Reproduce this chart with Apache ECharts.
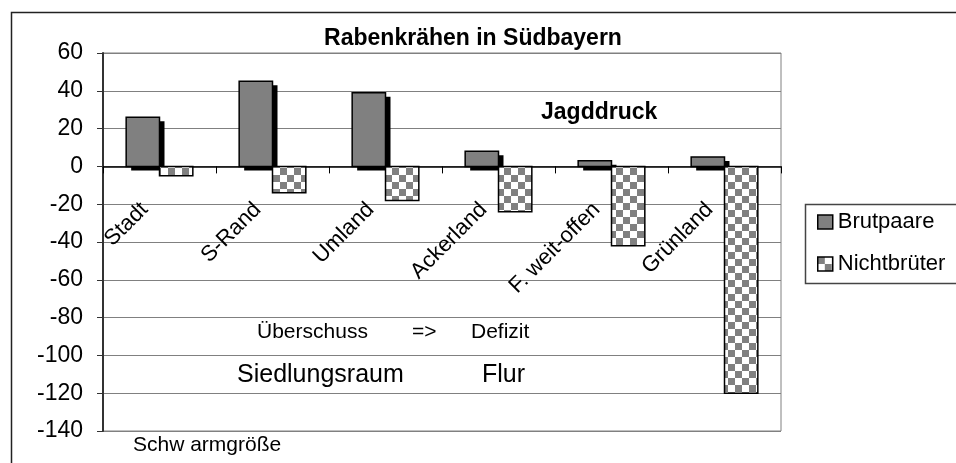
<!DOCTYPE html>
<html>
<head>
<meta charset="utf-8">
<script src="https://cdn.jsdelivr.net/npm/echarts@6/dist/echarts.min.js"></script>
<style>
html, body { margin: 0; padding: 0; background: #fff; }
#chart { width: 956px; height: 463px; }
</style>
</head>
<body>
<div id="chart"></div>
<script>
var categories = ['Stadt', 'S-Rand', 'Umland', 'Ackerland', 'F. weit-offen', 'Grünland'];
var brutpaare = [26, 45, 39, 8, 3, 5];
var nichtbrueter = [-5, -14, -18, -24, -42, -120];
var yTicks = { min: -140, max: 60, step: 20 };

// checkerboard fill like the old Excel pattern
function checker() {
    var c = document.createElement('canvas');
    c.width = 14; c.height = 14;
    var g = c.getContext('2d');
    g.fillStyle = '#ffffff';
    g.fillRect(0, 0, 14, 14);
    g.fillStyle = '#808080';
    g.fillRect(0, 0, 7, 7);
    g.fillRect(7, 7, 7, 7);
    return c;
}
var checkerFill = { image: checker(), repeat: 'repeat' };

// bar drawn next to the category centre, side -1 = left half, 1 = right half
function barRenderer(side, fill, shadow) {
    return function (params, api) {
        var c = api.value(0), v = api.value(1);
        var base = api.coord([c, 0]);
        var end = api.coord([c, v]);
        var w = api.size([1, 0])[0] * 0.295;
        var x = side < 0 ? base[0] - w : base[0];
        var y = Math.min(base[1], end[1]);
        var h = Math.abs(base[1] - end[1]);
        var kids = [];
        if (shadow) {
            kids.push({ type: 'rect', shape: { x: x + 5, y: y + 4, width: w, height: h },
                        style: { fill: '#000' } });
        }
        kids.push({ type: 'rect', shape: { x: x, y: y, width: w, height: h },
                    style: { fill: fill, stroke: '#000', lineWidth: 1.5 } });
        return { type: 'group', children: kids };
    };
}

function pairs(values) {
    return values.map(function (v, i) { return [i, v]; });
}

var font = '"Liberation Sans", Arial, sans-serif';
var myChart = echarts.init(document.getElementById('chart'));
var option = {
    animation: false,
    textStyle: { fontFamily: font, color: '#000' },
    title: {
        text: 'Rabenkrähen in Südbayern',
        left: 468,
        textAlign: 'center',
        top: 22,
        textStyle: { fontSize: 23, fontWeight: 'bold', color: '#000', fontFamily: font }
    },
    legend: {
        orient: 'vertical',
        left: 812,
        top: 206,
        itemWidth: 15,
        itemHeight: 14,
        itemGap: 20,
        textStyle: { fontSize: 22, color: '#000', fontFamily: font },
        data: [
            { name: 'Brutpaare', icon: 'rect',
              itemStyle: { color: '#808080', borderColor: '#000', borderWidth: 1.5 } },
            { name: 'Nichtbrüter', icon: 'rect',
              itemStyle: { color: checkerFill, borderColor: '#000', borderWidth: 1.5 } }
        ]
    },
    grid: {
        left: 103,
        right: 175,
        top: 53,
        bottom: 32,
        outerBoundsMode: 'none',
        containLabel: false,
        show: true,
        borderColor: '#808080',
        borderWidth: 1
    },
    xAxis: {
        type: 'category',
        data: categories,
        position: 'bottom',
        offset: 0,
        axisLine: { onZero: false, lineStyle: { color: '#000', width: 1.5 } },
        axisTick: { show: true, length: 7, lineStyle: { color: '#000' } },
        axisLabel: {
            rotate: 45,
            margin: 25,
            padding: [0, 21, 0, 0],
            fontSize: 22,
            color: '#000',
            fontFamily: font
        }
    },
    yAxis: {
        type: 'value',
        min: yTicks.min,
        max: yTicks.max,
        interval: yTicks.step,
        axisLine: { show: true, lineStyle: { color: '#333', width: 2 } },
        axisTick: { show: true, length: 6, lineStyle: { color: '#333' } },
        axisLabel: { fontSize: 23, color: '#000', margin: 20, fontFamily: font },
        splitLine: { lineStyle: { color: '#808080', width: 1 } }
    },
    series: [{
        name: 'Brutpaare',
        type: 'custom',
        renderItem: barRenderer(-1, '#808080', true),
        encode: { x: 0, y: 1 },
        itemStyle: { color: '#808080' },
        data: pairs(brutpaare)
    }, {
        name: 'Nichtbrüter',
        type: 'custom',
        renderItem: barRenderer(1, checkerFill, false),
        encode: { x: 0, y: 1 },
        itemStyle: { color: '#808080' },
        data: pairs(nichtbrueter)
    }],
    graphic: [
        { type: 'rect', left: 9, top: 10, z: -10, shape: { width: 980, height: 480 },
          style: { fill: 'none', stroke: '#222', lineWidth: 1.5 } },
        { type: 'rect', left: 803, top: 202, shape: { width: 170, height: 79 },
          style: { fill: 'none', stroke: '#444', lineWidth: 1.5 } },
        { type: 'text', x: 541, y: 113,
          style: { text: 'Jagddruck', font: 'bold 23px ' + font, fill: '#000', textVerticalAlign: 'middle' } },
        { type: 'text', x: 257, y: 332,
          style: { text: 'Überschuss', font: '21px ' + font, fill: '#000', textVerticalAlign: 'middle' } },
        { type: 'text', x: 412, y: 332,
          style: { text: '=>', font: '21px ' + font, fill: '#000', textVerticalAlign: 'middle' } },
        { type: 'text', x: 471, y: 332,
          style: { text: 'Defizit', font: '21px ' + font, fill: '#000', textVerticalAlign: 'middle' } },
        { type: 'text', x: 237, y: 375,
          style: { text: 'Siedlungsraum', font: '25px ' + font, fill: '#000', textVerticalAlign: 'middle' } },
        { type: 'text', x: 482, y: 375,
          style: { text: 'Flur', font: '25px ' + font, fill: '#000', textVerticalAlign: 'middle' } },
        { type: 'text', x: 133, y: 445,
          style: { text: 'Schw armgröße', font: '21px ' + font, fill: '#000', textVerticalAlign: 'middle' } }
    ]
};
myChart.setOption(option);

// lift the category axis (line, ticks, labels) up to the zero line
var zeroY = myChart.convertToPixel({ yAxisIndex: 0 }, 0);
var bottomY = myChart.convertToPixel({ yAxisIndex: 0 }, yTicks.min);
myChart.setOption({ xAxis: { offset: zeroY - bottomY } });
</script>
</body>
</html>
